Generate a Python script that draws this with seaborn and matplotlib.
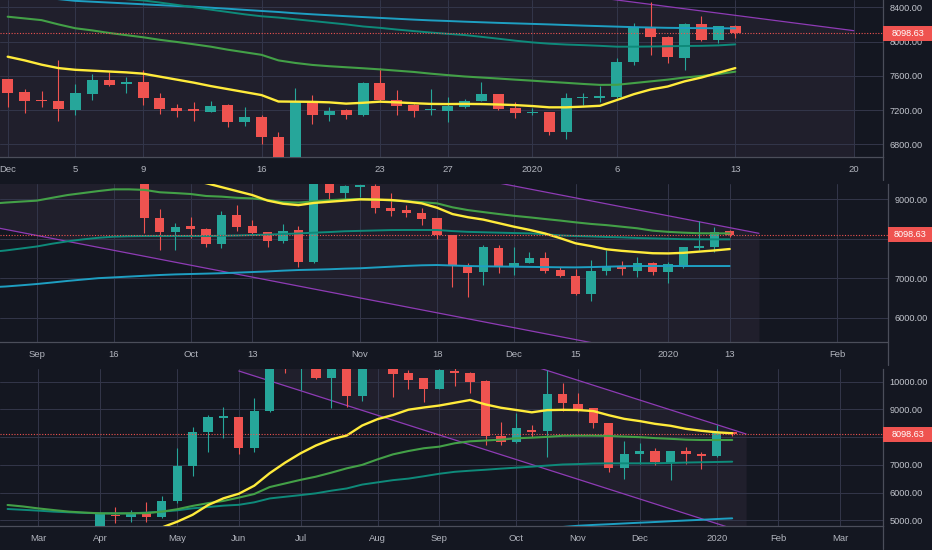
import numpy as np
import pandas as pd
import seaborn as sns
import matplotlib.pyplot as plt
from matplotlib.patches import Rectangle
from matplotlib.lines import Line2D
from matplotlib.ticker import FormatStrFormatter

# colours (dark trading view look)
BG = '#141721'
SHADE = '#201f2c'
GRID = '#33364a'
TXT = '#b2b5be'
PRICE_TXT = '#c3c6ce'
UP = '#26a69a'
DOWN = '#ef5350'
YEL = '#ffeb3b'
GRN = '#43a047'
TEAL = '#0e8a7a'
CYAN = '#1e9fc2'
PURP = '#8e3bb5'

sns.set_style('dark', {'axes.facecolor': BG, 'figure.facecolor': BG, 'grid.color': GRID})
plt.rcParams['font.family'] = ['Liberation Sans', 'DejaVu Sans']

last_price = 8098.63

########################## daily chart (Dec 1 .. Jan 13) ##########################
d_open = [7559, 7411, 7318, 7309, 7200, 7387, 7551, 7504, 7527, 7340, 7224, 7212, 7181, 7259, 7064,
          7122, 6881, 6620, 7294, 7142, 7200, 7142, 7520, 7317, 7259, 7197, 7193, 7239, 7309, 7387,
          7220, 7161, 7177, 6947, 7337, 7344, 7348, 7765, 8166, 8057, 7804, 8205, 8018, 8181]
d_high = [7565, 7442, 7426, 7784, 7504, 7621, 7648, 7582, 7667, 7395, 7270, 7298, 7305, 7270, 7232,
          7142, 6943, 7453, 7375, 7239, 7208, 7531, 7687, 7434, 7270, 7442, 7356, 7330, 7531, 7390,
          7298, 7220, 7177, 7403, 7395, 7481, 7804, 8213, 8466, 8065, 8213, 8298, 8181, 8193]
d_low = [7232, 7162, 7232, 7076, 7142, 7317, 7481, 7395, 7263, 7154, 7122, 7076, 7177, 7006, 7013,
         6803, 6550, 6450, 7037, 7076, 7099, 7130, 7298, 7142, 7115, 7142, 7064, 7225, 7302, 7200,
         7103, 7142, 6908, 6858, 7259, 7298, 7337, 7726, 7843, 7745, 7667, 8010, 7979, 8037]
d_close = [7403, 7302, 7305, 7208, 7395, 7551, 7496, 7531, 7340, 7212, 7193, 7185, 7247, 7064, 7122,
           6889, 6620, 7294, 7142, 7189, 7142, 7520, 7317, 7251, 7193, 7208, 7247, 7309, 7387, 7212,
           7161, 7173, 6947, 7337, 7348, 7356, 7765, 8154, 8049, 7823, 8205, 8018, 8181, 8098.63]
d_ma_yellow = [7823, 7780, 7730, 7690, 7670, 7660, 7650, 7640, 7625, 7590, 7555, 7520, 7480, 7445, 7410,
               7375, 7300, 7298, 7296, 7290, 7275, 7285, 7298, 7290, 7280, 7272, 7270, 7272, 7270, 7265,
               7258, 7247, 7232, 7232, 7240, 7250, 7317, 7385, 7440, 7475, 7535, 7580, 7635, 7690]
d_ma_green = [8290, 8270, 8250, 8200, 8155, 8130, 8100, 8075, 8050, 8020, 7995, 7968, 7940, 7905, 7875,
              7845, 7780, 7750, 7727, 7712, 7700, 7688, 7675, 7660, 7645, 7625, 7608, 7592, 7580, 7568,
              7555, 7543, 7530, 7518, 7505, 7494, 7495, 7515, 7535, 7555, 7580, 7598, 7620, 7648]
d_ma_teal = [8750, 8710, 8670, 8630, 8590, 8555, 8520, 8495, 8480, 8455, 8428, 8400, 8372, 8345, 8318,
             8295, 8280, 8260, 8240, 8220, 8200, 8176, 8160, 8140, 8122, 8105, 8090, 8076, 8055, 8033,
             8010, 7990, 7975, 7965, 7958, 7950, 7940, 7940, 7942, 7945, 7948, 7950, 7955, 7967]
d_ma_cyan = [8560, 8540, 8515, 8495, 8475, 8465, 8455, 8445, 8435, 8425, 8415, 8407, 8395, 8383, 8370,
             8357, 8345, 8330, 8318, 8307, 8296, 8286, 8276, 8266, 8256, 8247, 8240, 8232, 8225, 8218,
             8212, 8206, 8200, 8193, 8186, 8180, 8174, 8168, 8164, 8160, 8158, 8156, 8155, 8154]
d_ticks = [0, 4, 8, 15, 22, 26, 31, 36, 43, 50]
d_tick_labels = ['Dec', '5', '9', '16', '23', '27', '2020', '6', '13', '20']
d_yticks = [6800, 7200, 7600, 8000, 8400]
d_channel = (-5, 50, 9533, 8127, 3000)   # x start, x end, upper price start, upper price end, width

########################## 3-day chart (bar -3 .. 45, bar 0 = Sep 1) ##########################
t_open = [10300, 10150, 9700,
          9600, 10380, 10400, 10320, 10200, 10300, 10250, 10030, 8528, 8174, 8318, 8242, 7863, 8596,
          8318, 8158, 7939, 8217, 7416, 9400, 9143, 9311, 9337, 8764, 8722, 8655, 8511, 8090, 7307,
          7164, 7753, 7307, 7391, 7517, 7206, 7063, 6599, 7189, 7307, 7189, 7391, 7164, 7273, 7770,
          7795, 8191]
t_high = [10500, 10250, 9900,
          10450, 10600, 10550, 10450, 10400, 10350, 10300, 10100, 8739, 8385, 8537, 8259, 8705, 8848,
          8469, 8160, 8368, 8318, 10300, 9500, 9360, 9337, 9380, 9143, 8848, 8764, 8511, 8100, 7374,
          7838, 7838, 7795, 7669, 7669, 7273, 7223, 7458, 7711, 7442, 7543, 7400, 7416, 7795, 8452,
          8284, 8217]
t_low = [9900, 9600, 9500,
         9500, 10150, 10100, 9950, 9950, 10100, 9900, 8149, 7711, 7711, 8006, 7795, 7753, 8200,
         8090, 7795, 7880, 7290, 7374, 8975, 8975, 9059, 8655, 8579, 8553, 8343, 7981, 6768, 6532,
         6827, 7138, 7079, 7374, 7122, 7020, 6574, 6431, 7079, 7079, 7037, 7079, 6869, 7248, 7711,
         7669, 8048]
t_close = [10150, 9700, 9600,
           10380, 10400, 10320, 10200, 10300, 10250, 10030, 8528, 8174, 8301, 8233, 7863, 8596, 8301,
           8149, 7939, 8200, 7416, 9420, 9160, 9328, 9337, 8764, 8705, 8638, 8494, 8090, 7307, 7138,
           7779, 7307, 7391, 7517, 7189, 7063, 6599, 7189, 7307, 7223, 7391, 7164, 7357, 7779, 7821,
           8174, 8098.63]
t_ma_yellow = [10300, 10250, 10180,
               10150, 10200, 10220, 10230, 10200, 10150, 10050, 9900, 9750, 9600, 9480, 9400, 9300, 9200,
               9100, 8960, 8880, 8845, 8900, 8930, 8960, 8990, 8985, 8975, 8940, 8890, 8780, 8620, 8540,
               8480, 8390, 8300, 8220, 8130, 8010, 7880, 7810, 7730, 7690, 7660, 7630, 7625, 7640, 7670,
               7700, 7736]
t_ma_green = [8880, 8910, 8935,
              8958, 9030, 9100, 9150, 9200, 9244, 9244, 9230, 9170, 9150, 9126, 9076, 9060, 9030,
              9015, 8975, 8920, 8910, 8940, 8970, 8990, 9000, 8985, 8965, 8945, 8920, 8890, 8790, 8720,
              8670, 8621, 8575, 8537, 8495, 8455, 8410, 8370, 8340, 8300, 8260, 8200, 8170, 8150, 8135,
              8132, 8132]
t_ma_teal = [7660, 7700, 7750,
             7800, 7870, 7930, 7980, 8020, 8048, 8060, 8065, 8065, 8065, 8065, 8065, 8070, 8078,
             8090, 8100, 8115, 8130, 8150, 8165, 8185, 8195, 8205, 8215, 8217, 8217, 8217, 8190, 8170,
             8160, 8150, 8140, 8132, 8110, 8080, 8065, 8055, 8040, 8031, 8015, 8006, 7995, 7985, 7981,
             7981, 7981]
t_ma_cyan = [6770, 6790, 6820,
             6852, 6890, 6930, 6965, 7000, 7020, 7040, 7060, 7080, 7095, 7105, 7115, 7125, 7140,
             7155, 7170, 7190, 7206, 7215, 7225, 7240, 7250, 7270, 7290, 7310, 7325, 7332, 7320, 7307,
             7300, 7295, 7290, 7285, 7280, 7275, 7273, 7280, 7290, 7300, 7307, 7307, 7307, 7307, 7307,
             7307, 7307]
t_ticks = [0, 5, 10, 14, 21, 26, 31, 35, 41, 45, 52]
t_tick_labels = ['Sep', '16', 'Oct', '13', 'Nov', '18', 'Dec', '15', '2020', '13', 'Feb']
t_yticks = [6000, 7000, 8000, 9000]
t_channel = (-10, 46.9, 12412, 8133, 3580)

########################## weekly chart (bar -6 .. 41, bar 0 = Apr 1) ##########################
w_open = [3850, 3870, 3900, 3960, 3990, 4060,
          4100, 5193, 5133, 5313, 5133, 5698, 6960, 8198, 8703, 8715, 7597, 8943, 11300, 11000,
          11300, 10145, 10560, 9496, 10800, 11000, 10302, 10121, 9737, 10385, 10302, 10025, 8054, 7837,
          8258, 8222, 9544, 9184, 9039, 8498, 6900, 7381, 7501, 7056, 7501, 7381, 7333, 8174]
w_high = [3920, 3950, 4000, 4050, 4100, 4150,
          5290, 5493, 5373, 5674, 5878, 7597, 8378, 8799, 9099, 8739, 9400, 11200, 13800, 12000,
          11600, 10800, 10900, 12000, 12300, 11500, 10422, 10121, 10440, 10480, 10362, 10061, 8535, 8859,
          8438, 10422, 9941, 9580, 9039, 8520, 7861, 7777, 7621, 7510, 7657, 7453, 8438, 8200]
w_low = [3780, 3820, 3850, 3900, 3920, 3990,
         4080, 4892, 4953, 4953, 5073, 5614, 6599, 7453, 7982, 7381, 7477, 8895, 10300, 9700,
         10097, 9039, 9099, 9304, 10500, 9436, 9737, 9280, 9720, 9857, 9580, 7717, 7717, 7777,
         8018, 7296, 8943, 8919, 8342, 6756, 6491, 7020, 6996, 6455, 7020, 6852, 7296, 8054]
w_close = [3870, 3900, 3960, 3990, 4060, 4100,
           5253, 5145, 5253, 5133, 5710, 6972, 8198, 8715, 8727, 7597, 8943, 10850, 10950, 11400,
           10145, 10560, 9496, 10800, 11200, 10265, 10061, 9737, 10422, 10302, 10001, 8054, 7837, 8318,
           8198, 9544, 9220, 8979, 8498, 6900, 7381, 7501, 7116, 7501, 7381, 7333, 8198, 8098.63]
w_ma_yellow = [4200, 4150, 4100, 4080, 4100, 4200,
               4300, 4420, 4530, 4640, 4740, 4950, 5200, 5550, 5794, 5960, 6250, 6700, 7080, 7417,
               7700, 7920, 8060, 8420, 8650, 8800, 8990, 9070, 9140, 9240, 9340, 9180, 9060, 8979,
               8895, 8975, 8985, 8979, 8940, 8790, 8660, 8580, 8480, 8410, 8300, 8230, 8175, 8140]
w_ma_green = [5554, 5500, 5430, 5370, 5313, 5280,
              5253, 5250, 5253, 5260, 5313, 5400, 5520, 5620, 5700, 5820, 5950, 6200, 6330, 6460,
              6575, 6720, 6876, 7000, 7200, 7380, 7500, 7600, 7657, 7780, 7850, 7880, 7910, 7960,
              7982, 8010, 8050, 8054, 8054, 8045, 8020, 8000, 7965, 7940, 7910, 7897, 7897, 7897]
w_ma_teal = [5409, 5380, 5350, 5313, 5290, 5270,
             5253, 5250, 5253, 5280, 5313, 5360, 5433, 5480, 5530, 5560, 5650, 5790, 5850, 5910,
             5974, 6070, 6150, 6290, 6370, 6450, 6505, 6590, 6680, 6750, 6790, 6825, 6865, 6900,
             6936, 6975, 7015, 7030, 7050, 7056, 7056, 7056, 7058, 7070, 7085, 7095, 7105, 7116]
w_ma_cyan = [3400, 3440, 3480, 3520, 3560, 3600,
             3640, 3680, 3720, 3760, 3800, 3840, 3880, 3920, 3960, 4000, 4040, 4080, 4115, 4150,
             4185, 4220, 4255, 4290, 4325, 4360, 4395, 4430, 4465, 4500, 4540, 4580, 4620, 4660,
             4700, 4730, 4760, 4805, 4835, 4860, 4888, 4915, 4940, 4968, 4995, 5020, 5048, 5073]
w_ticks = [-4, 0, 5, 9, 13, 18, 22, 27, 31, 35, 40, 44, 48]
w_tick_labels = ['Mar', 'Apr', 'May', 'Jun', 'Jul', 'Aug', 'Sep', 'Oct', 'Nov', 'Dec', '2020', 'Feb', 'Mar']
w_yticks = [5000, 6000, 7000, 8000, 9000, 10000]
w_channel = (9.0, 41.9, 13954, 8114, 3568)


W, H = 932, 550
fig = plt.figure(figsize=(W / 100, H / 100), dpi=100)
fig.patch.set_facecolor(BG)

# axes boxes in pixels: (left, top, right, bottom)
boxes = [(0, 0, 883, 157), (0, 184, 888, 341.5), (0, 369, 883, 526)]


def candles(ax, x, o, h, l, c, width, minh):
    o = np.array(o, float); c = np.array(c, float)
    col = np.where(c >= o, UP, DOWN)
    ax.vlines(x, l, h, colors=col, lw=0.8, zorder=3)
    body = np.maximum(np.abs(c - o), minh)
    ax.bar(x, body, bottom=np.minimum(o, c), width=width, color=col, lw=0, zorder=4)


def channel(ax, ch):
    x0, x1, p0, p1, wd = ch
    xs = np.array([x0, x1]); top = np.array([p0, p1])
    ax.fill_between(xs, top - wd, top, color=SHADE, lw=0, zorder=0.2)
    ax.plot(xs, top, color=PURP, lw=0.9, zorder=2)
    ax.plot(xs, top - wd, color=PURP, lw=0.9, zorder=2)


panels = [
    (np.arange(0, 44), d_open, d_high, d_low, d_close, [d_ma_cyan, d_ma_teal, d_ma_green, d_ma_yellow],
     d_ticks, d_tick_labels, d_yticks, d_channel, (-0.455, 51.73), (6652, 8485), 0.65),
    (np.arange(-3, 46), t_open, t_high, t_low, t_close, [t_ma_cyan, t_ma_teal, t_ma_green, t_ma_yellow],
     t_ticks, t_tick_labels, t_yticks, t_channel, (-2.38, 55.28), (5400, 9379), 0.6),
    (np.arange(-6, 42), w_open, w_high, w_low, w_close, [w_ma_cyan, w_ma_teal, w_ma_green, w_ma_yellow],
     w_ticks, w_tick_labels, w_yticks, w_channel, (-6.49, 50.78), (4796, 10458), 0.6),
]
ma_cols = [(CYAN, 1.4), (TEAL, 1.4), (GRN, 1.5), (YEL, 1.7)]

for box, p in zip(boxes, panels):
    x, o, h, l, c, mas, xt, xtl, yt, ch, xlim, ylim, bw = p
    left, top, right, bottom = box
    ax = fig.add_axes([left / W, 1 - bottom / H, (right - left) / W, (bottom - top) / H])
    ax.set_facecolor(BG)
    ax.set_axisbelow(True)

    channel(ax, ch)
    candles(ax, x, o, h, l, c, bw, (ylim[1] - ylim[0]) / 157 * 1.3)

    ma = pd.DataFrame({'x': x})
    for i, (m, (col, lw)) in enumerate(zip(mas, ma_cols)):
        ma['ma%d' % i] = m
        sns.lineplot(data=ma, x='x', y='ma%d' % i, color=col, lw=lw, ax=ax, zorder=5)

    ax.axhline(last_price, color=DOWN, ls=(0, (1, 1.5)), lw=0.8, zorder=6)

    ax.set_xlim(*xlim)
    ax.set_ylim(*ylim)
    ax.set_xticks(xt)
    ax.set_xticklabels(xtl)
    ax.set_yticks(yt)
    ax.yaxis.set_major_formatter(FormatStrFormatter('%.2f'))
    ax.yaxis.tick_right()
    ax.set_xlabel('')
    ax.set_ylabel('')
    ax.grid(True, color=GRID, lw=0.7)
    ax.tick_params(axis='x', length=0, pad=6, labelsize=6.8, colors=TXT)
    ax.tick_params(axis='y', length=0, pad=4.5, labelsize=6.6, colors=PRICE_TXT)
    for s in ['top', 'left']:
        ax.spines[s].set_visible(False)
    for s in ['bottom', 'right']:
        ax.spines[s].set_color('#4b4e5a')
        ax.spines[s].set_linewidth(0.9)

    # right axis line runs down through the date row
    fig.add_artist(Line2D([right / W, right / W], [1 - (bottom + 23) / H, 1 - bottom / H],
                          transform=fig.transFigure, color='#4b4e5a', lw=0.9))

    # last price tag (covers the 8000.00 label like in the original)
    yp = ax.transData.transform((0, last_price))[1] / fig.bbox.height
    hh = 15 / H
    fig.add_artist(Rectangle((right / W, yp - hh / 2), 1 - right / W, hh, transform=fig.transFigure,
                             fc=DOWN, ec='none', zorder=7))
    fig.text((right / W + 1) / 2, yp, '%.2f' % last_price, color='white', fontsize=6.6,
             ha='center', va='center', zorder=8)

fig.savefig('out.png', dpi=100, facecolor=BG)
